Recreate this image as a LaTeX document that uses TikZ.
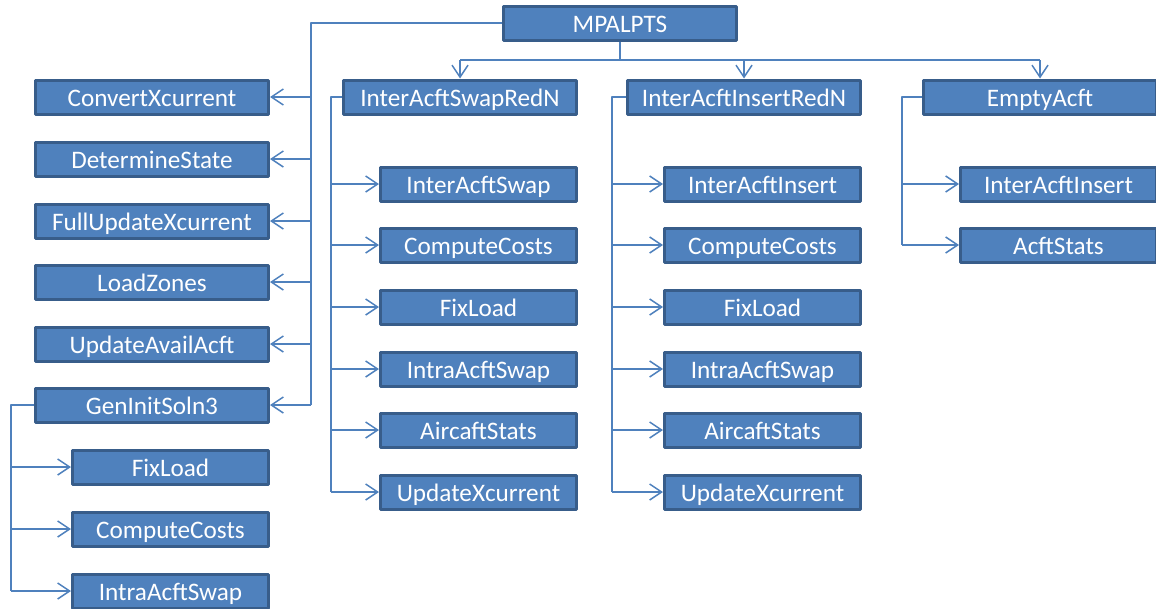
\documentclass[tikz,border=0pt]{standalone}
\usepackage{fontspec}
\setmainfont{Carlito}
\usetikzlibrary{arrows.meta}
\definecolor{boxfill}{HTML}{4F81BD}
\definecolor{boxline}{HTML}{385D8A}
\tikzset{
  box/.style={draw=boxline,line width=3pt,fill=boxfill,text=white,inner sep=0pt,
    minimum width=233pt,minimum height=34pt,text height=18pt,text depth=0pt,
    font=\fontsize{25.2}{28}\selectfont},
  subbox/.style={box,minimum width=196pt},
  link/.style={draw=boxfill,line width=1.8pt},
  arr/.style={link,-{Straight Barb[length=12pt,width=16pt,line width=1.5pt]}}
}
\begin{document}
\begin{tikzpicture}[x=1pt,y=-1pt,line join=round]
        \useasboundingbox (0,0) rectangle (1156,608);
        % top node
        \node[box] (mp) at (620,23) {MPALPTS};

        % left column
        \node[box] (cx) at (152,97) {ConvertXcurrent};
        \node[box] (ds) at (152,159) {DetermineState};
        \node[box] (fu) at (152,221) {FullUpdateXcurrent};
        \node[box] (lz) at (152,282) {LoadZones};
        \node[box] (ua) at (152,344) {UpdateAvailAcft};
        \node[box] (gi) at (152,405) {GenInitSoln3};
        \node[subbox] (gfl) at (170.5,467) {FixLoad};
        \node[subbox] (gcc) at (170.5,529) {ComputeCosts};
        \node[subbox] (gis) at (170.5,591) {IntraAcftSwap};

        % swap column
        \node[box] (sw) at (460,97) {InterAcftSwapRedN};
        \node[subbox] (sia) at (478.5,184) {InterAcftSwap};
        \node[subbox] (scc) at (478.5,245) {ComputeCosts};
        \node[subbox] (sfl) at (478.5,307) {FixLoad};
        \node[subbox] (sis) at (478.5,369) {IntraAcftSwap};
        \node[subbox] (sas) at (478.5,430) {AircaftStats};
        \node[subbox] (sux) at (478.5,492) {UpdateXcurrent};

        % insert column
        \node[box] (in) at (744,97) {InterAcftInsertRedN};
        \node[subbox] (iia) at (762.5,184) {InterAcftInsert};
        \node[subbox] (icc) at (762.5,245) {ComputeCosts};
        \node[subbox] (ifl) at (762.5,307) {FixLoad};
        \node[subbox] (iis) at (762.5,369) {IntraAcftSwap};
        \node[subbox] (ias) at (762.5,430) {AircaftStats};
        \node[subbox] (iux) at (762.5,492) {UpdateXcurrent};

        % empty column
        \node[box] (ea) at (1040,97) {EmptyAcft};
        \node[subbox] (eia) at (1058.5,184) {InterAcftInsert};
        \node[subbox] (est) at (1058.5,245) {AcftStats};

        % links from the top
        \draw[link] (mp.west) -- (311,23) coordinate (lt) -- (lt |- gi);
        \draw[arr] (lt |- cx) -- (cx.east);
        \draw[arr] (lt |- ds) -- (ds.east);
        \draw[arr] (lt |- fu) -- (fu.east);
        \draw[arr] (lt |- lz) -- (lz.east);
        \draw[arr] (lt |- ua) -- (ua.east);
        \draw[arr] (lt |- gi) -- (gi.east);

        \draw[link] (mp.south) -- (620,60) coordinate (mt);
        \draw[link] (mt -| sw) -- (mt -| ea);
        \draw[arr] (mt -| sw) -- (sw.north);
        \draw[arr] (mt -| in) -- (in.north);
        \draw[arr] (mt -| ea) -- (ea.north);

        % GenInitSoln3
        \draw[link] (gi.west) -- (11,405) coordinate (gt) -- (gt |- gis);
        \draw[arr] (gt |- gfl) -- (gfl.west);
        \draw[arr] (gt |- gcc) -- (gcc.west);
        \draw[arr] (gt |- gis) -- (gis.west);

        % InterAcftSwapRedN
        \draw[link] (sw.west) -- (331,97) coordinate (st) -- (st |- sux);
        \draw[arr] (st |- sia) -- (sia.west);
        \draw[arr] (st |- scc) -- (scc.west);
        \draw[arr] (st |- sfl) -- (sfl.west);
        \draw[arr] (st |- sis) -- (sis.west);
        \draw[arr] (st |- sas) -- (sas.west);
        \draw[arr] (st |- sux) -- (sux.west);

        % InterAcftInsertRedN
        \draw[link] (in.west) -- (612,97) coordinate (it) -- (it |- iux);
        \draw[arr] (it |- iia) -- (iia.west);
        \draw[arr] (it |- icc) -- (icc.west);
        \draw[arr] (it |- ifl) -- (ifl.west);
        \draw[arr] (it |- iis) -- (iis.west);
        \draw[arr] (it |- ias) -- (ias.west);
        \draw[arr] (it |- iux) -- (iux.west);

        % EmptyAcft
        \draw[link] (ea.west) -- (902,97) coordinate (et) -- (et |- est);
        \draw[arr] (et |- eia) -- (eia.west);
        \draw[arr] (et |- est) -- (est.west);
      \end{tikzpicture}
\end{document}
